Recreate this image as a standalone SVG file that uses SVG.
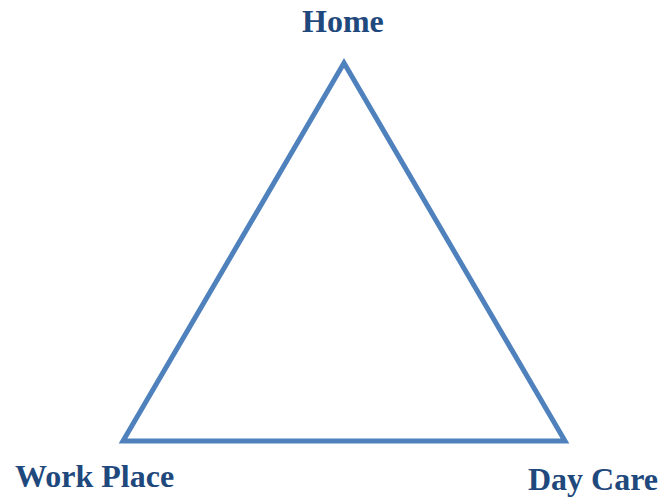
<svg xmlns="http://www.w3.org/2000/svg" width="664" height="500" viewBox="0 0 664 500">
<style>
.lbl{font-family:"Liberation Serif","Times New Roman",serif;font-weight:bold;font-size:32px;fill:#1F497D}
.tri{fill:none;stroke:#4F81BD;stroke-width:5;stroke-linejoin:miter}
</style>
<rect width="664" height="500" fill="#fff"/>
<g id="connectors">
<polygon class="tri" points="344,63 123,441 565,441"/>
</g>
<g id="home"><text class="lbl" x="302" y="32">Home</text></g>
<g id="workplace"><text class="lbl" x="15" y="487">Work Place</text></g>
<g id="daycare"><text class="lbl" x="528" y="490">Day Care</text></g>
</svg>
